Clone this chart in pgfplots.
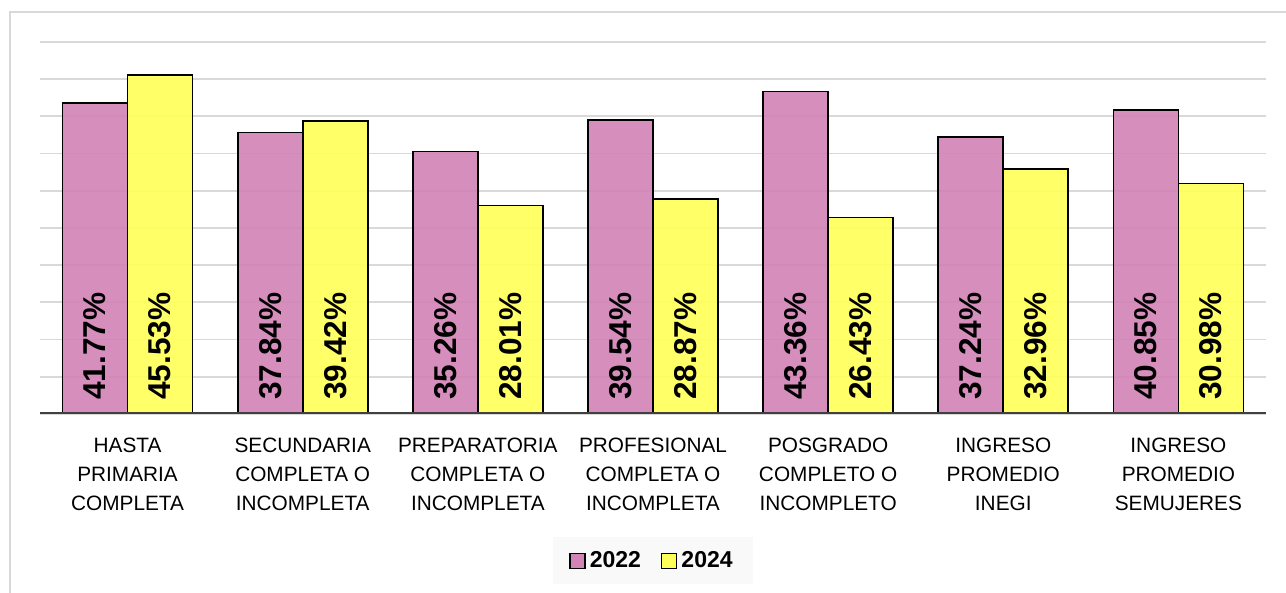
\documentclass[border=0pt]{standalone}
\usepackage{pgfplots}
\pgfplotsset{compat=1.18}
\usepackage{fontspec}
\setmainfont{Liberation Sans}
\definecolor{pinkbar}{RGB}{211,132,182}
\definecolor{yelbar}{RGB}{255,255,90}
\definecolor{gridc}{RGB}{217,217,217}
\definecolor{basec}{RGB}{64,64,64}
\begin{document}
\begin{tikzpicture}
\path[use as bounding box] (-20pt,-89.5pt) rectangle (623pt,207pt);
\draw[color=gridc, line width=1pt] (-15pt,-100pt) -- (-15pt,201pt) -- (640pt,201pt);
\begin{axis}[
  at={(0pt,0pt)}, anchor=south west,
  scale only axis, width=613pt, height=186pt,
  xmin=-0.5, xmax=6.5, ymin=0, ymax=50,
  ybar=0pt, bar width=32.5pt,
  axis line style={draw=none},
  ytick={0,5,...,50}, yticklabels={},
  ymajorgrids, grid style={color=gridc, line width=0.9pt},
  major tick length=0pt,
  xtick={0,...,6},
  xticklabels={{HASTA\\PRIMARIA\\COMPLETA},{SECUNDARIA\\COMPLETA O\\INCOMPLETA},{PREPARATORIA\\COMPLETA O\\INCOMPLETA},{PROFESIONAL\\COMPLETA O\\INCOMPLETA},{POSGRADO\\COMPLETO O\\INCOMPLETO},{INGRESO\\PROMEDIO\\INEGI},{INGRESO\\PROMEDIO\\SEMUJERES}},
  xticklabel style={align=center, font=\fontsize{10.4}{14.5}\selectfont, yshift=-8.5pt},
  legend style={at={(0.5,-0.395)}, anchor=center, legend columns=2, fill=gray!5, draw=none,
    font=\bfseries\fontsize{11.5}{13}\selectfont, inner xsep=8pt, inner ysep=5pt,
    /tikz/every even column/.append style={column sep=8pt}},
  legend image code/.code={\draw[#1, fill opacity=1, line width=0.75pt] (0pt,-3.8pt) rectangle (7.5pt,3.8pt);},
]
\addplot[draw=black, line width=0.8pt, fill=pinkbar, fill opacity=0.92, bar shift=-16.25pt]
  coordinates {(0,41.77) (1,37.84) (2,35.26) (3,39.54) (4,43.36) (5,37.24) (6,40.85)};
\addlegendentry{2022}
\addplot[draw=black, line width=0.8pt, fill=yelbar, fill opacity=0.92, bar shift=16.25pt]
  coordinates {(0,45.53) (1,39.42) (2,28.01) (3,28.87) (4,26.43) (5,32.96) (6,30.98)};
\addlegendentry{2024}
\addplot[draw=none, fill=none, forget plot, bar shift=-16.25pt, point meta=explicit symbolic,
  nodes near coords,
  every node near coord/.append style={rotate=90, anchor=west, inner sep=0pt, xshift=7pt,
    font=\bfseries\fontsize{15.8}{16}\selectfont, text=black}]
  coordinates {(0,0)[41.77\%] (1,0)[37.84\%] (2,0)[35.26\%] (3,0)[39.54\%] (4,0)[43.36\%] (5,0)[37.24\%] (6,0)[40.85\%]};
\addplot[draw=none, fill=none, forget plot, bar shift=16.25pt, point meta=explicit symbolic,
  nodes near coords,
  every node near coord/.append style={rotate=90, anchor=west, inner sep=0pt, xshift=7pt,
    font=\bfseries\fontsize{15.8}{16}\selectfont, text=black}]
  coordinates {(0,0)[45.53\%] (1,0)[39.42\%] (2,0)[28.01\%] (3,0)[28.87\%] (4,0)[26.43\%] (5,0)[32.96\%] (6,0)[30.98\%]};
\draw[color=basec, line width=1.5pt] (axis cs:-0.5,0) -- (axis cs:6.5,0);
\end{axis}
\end{tikzpicture}
\end{document}
